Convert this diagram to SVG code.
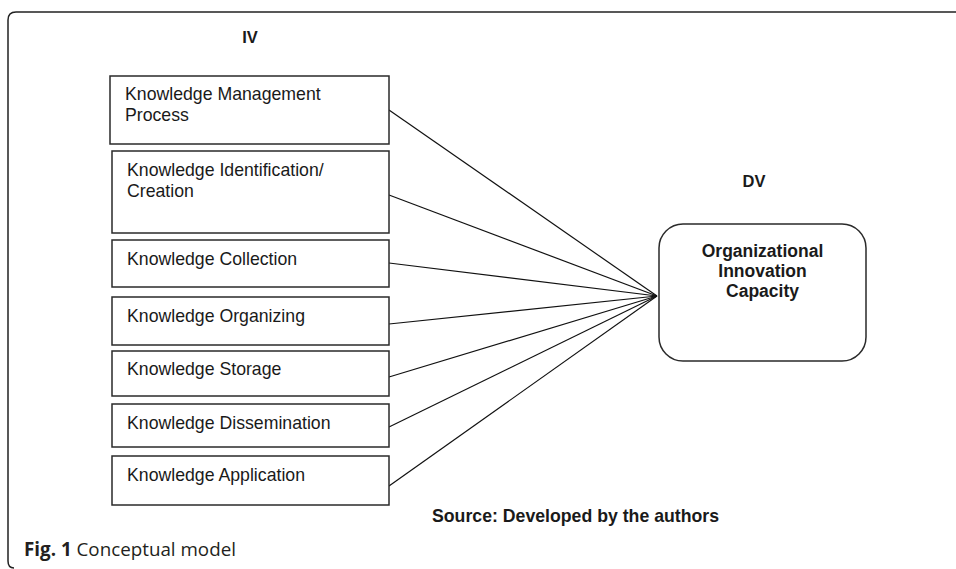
<svg xmlns="http://www.w3.org/2000/svg" width="956" height="569" viewBox="0 0 956 569">
<style>
.box{fill:#fff;stroke:#2a2a2a;stroke-width:1.5}
.t{font-family:"Liberation Sans",Arial,sans-serif;font-size:17.7px;fill:#1a1a1a}
.b{font-family:"Liberation Sans",Arial,sans-serif;font-weight:bold;fill:#1a1a1a}
.c{stroke:#111;stroke-width:1.2;fill:none}
.cap{font-family:"Open Sans","Noto Sans",sans-serif;font-size:18.8px;fill:#231f20}
</style>
<rect width="956" height="569" fill="#fff"/>
<path d="M14,568 Q8,568 8,561 L8,20 Q8,12 16,12 L956,12" fill="none" stroke="#222" stroke-width="1.5"/>
<text class="b" x="250" y="42.5" font-size="16.5" text-anchor="middle">IV</text>
<text class="b" x="754" y="187" font-size="16.5" text-anchor="middle">DV</text>
<g id="connectors">
<line class="c" x1="389" y1="110" x2="657" y2="296"/>
<line class="c" x1="389" y1="195" x2="657" y2="296"/>
<line class="c" x1="389" y1="263" x2="657" y2="296"/>
<line class="c" x1="389" y1="324" x2="657" y2="296"/>
<line class="c" x1="389" y1="377" x2="657" y2="296"/>
<line class="c" x1="389" y1="427" x2="657" y2="296"/>
<line class="c" x1="389" y1="486" x2="657" y2="296"/>
</g>
<g id="kmp"><rect class="box" x="110" y="76" width="279" height="68"/>
<text class="t" x="125" y="100">Knowledge Management</text><text class="t" x="125" y="120.5">Process</text></g>
<g id="kic"><rect class="box" x="112" y="151" width="277" height="82"/>
<text class="t" x="127" y="175.5">Knowledge Identification/</text><text class="t" x="127" y="196.5">Creation</text></g>
<g id="kc"><rect class="box" x="112" y="240" width="277" height="47"/>
<text class="t" x="127" y="265">Knowledge Collection</text></g>
<g id="ko"><rect class="box" x="112" y="297" width="277" height="48"/>
<text class="t" x="127" y="321.5">Knowledge Organizing</text></g>
<g id="ks"><rect class="box" x="112" y="351" width="277" height="45"/>
<text class="t" x="127" y="374.5">Knowledge Storage</text></g>
<g id="kd"><rect class="box" x="112" y="404" width="277" height="43"/>
<text class="t" x="127" y="428.5">Knowledge Dissemination</text></g>
<g id="ka"><rect class="box" x="112" y="456" width="277" height="49"/>
<text class="t" x="127" y="480.5">Knowledge Application</text></g>
<g id="oic"><rect class="box" x="659" y="224" width="207" height="137" rx="24" ry="24"/>
<text class="b" font-size="17.5" text-anchor="middle"><tspan x="762.5" y="256.5">Organizational</tspan><tspan x="762.5" y="277">Innovation</tspan><tspan x="762.5" y="297">Capacity</tspan></text></g>
<text class="b" x="432" y="521.5" font-size="17.7">Source: Developed by the authors</text>
<text class="cap" x="24" y="555.5"><tspan font-weight="bold">Fig. 1</tspan> Conceptual model</text>
</svg>
